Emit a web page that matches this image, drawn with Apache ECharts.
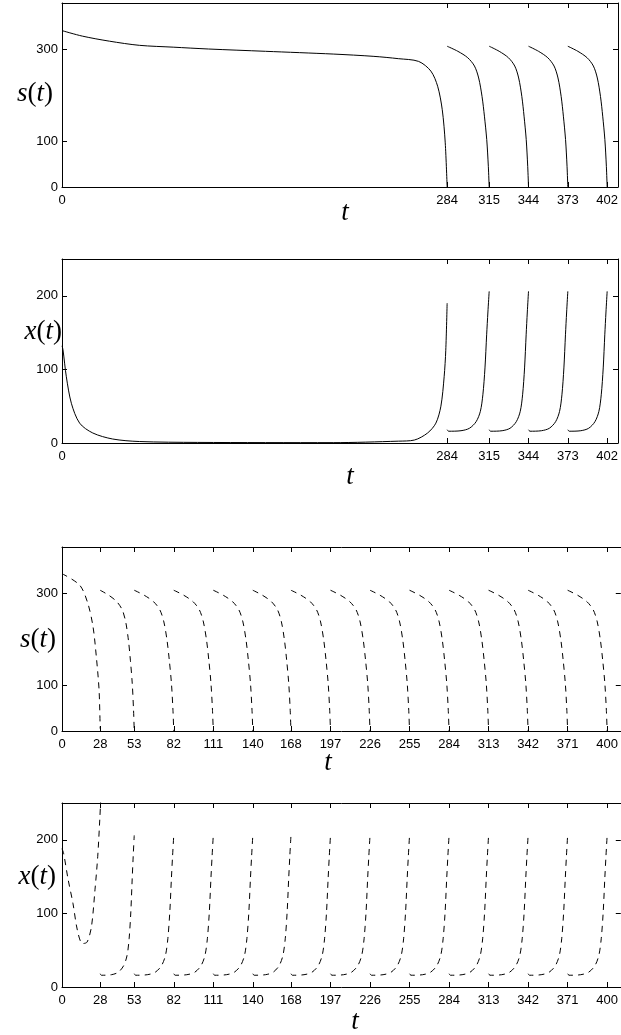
<!DOCTYPE html>
<html lang="en">
<head>
<meta charset="UTF-8">
<title>s(t), x(t)</title>
<style>
  html, body { margin: 0; padding: 0; background: #fff; }
</style>
</head>
<body>
<div id="main" style="width: 621px; height: 1035px;"></div>
<script src="https://cdn.jsdelivr.net/npm/echarts@6/dist/echarts.min.js"></script>
<script type="text/javascript">
// ---- data ----
// panel 1: s(t), solid
var s1HeadT = [0, 15, 35, 57, 82, 108, 150, 200, 230, 248, 263, 272, 277, 280.4, 282.6, 284];
var s1HeadV = [340, 328, 317, 308, 304, 300, 295, 289, 284, 279, 273, 252, 219, 168, 96, 0];
var s1Bounds = [284, 315, 344, 373, 402];
var s1Ticks = [0, 284, 315, 344, 373, 402];

// panel 2: x(t), solid
var x1HeadT = [0, 0.7, 3.2, 6.9, 13, 22.7, 37.4, 57, 100, 200, 248, 259.8, 269.6, 275.7, 279.4, 281.8, 283, 284];
var x1HeadV = [132, 127, 90, 54, 27, 13.6, 5.4, 2, 0.8, 0.5, 2.5, 4, 13.6, 27, 50, 90, 126, 190];

// one cycle, as fraction of the cycle length and value
var sCycleU = [0, 0.255, 0.49, 0.65, 0.75, 0.83, 0.887, 0.942, 0.98, 1];
var sCycleV = [306, 295, 281, 263, 237, 197, 154, 103, 45, 0];
var xCycleU = [0, 0.035, 0.33, 0.53, 0.69, 0.79, 0.85, 0.9, 0.94, 0.97, 1];
var xCycleV = [18, 16, 16.7, 20, 29, 43, 65.5, 102, 147, 178, 206];

// panel 3: s(t), dashed
var s2HeadT = [0, 13, 19, 22.8, 25.2, 27.2, 28];
var s2HeadV = [342, 317, 277, 226, 161, 89, 5];
var s2Bounds = [28, 53, 82, 111, 140, 168, 197, 226, 255, 284, 313, 342, 371, 400];
var s2Ticks = [0, 28, 53, 82, 111, 140, 168, 197, 226, 255, 284, 313, 342, 371, 400];

// panel 4: x(t), dashed
var x2HeadT = [0, 1.25, 4.4, 8.1, 11.3, 15, 18.4, 21.6, 24.2, 26.2, 27.7, 28.6];
var x2HeadV = [188, 181, 147, 113, 77, 59, 61, 82, 132, 177, 227, 262];

var sYTicks = [0, 100, 300];
var xYTicks = [0, 100, 200];

// ---- build series data ----
function headData(ts, vs) {
  var out = [];
  for (var i = 0; i < ts.length; i++) out.push([ts[i], vs[i]]);
  out.push([ts[ts.length - 1], '-']);
  return out;
}
function cycleData(bounds, u, v) {
  var out = [];
  for (var k = 0; k + 1 < bounds.length; k++) {
    var a = bounds[k], b = bounds[k + 1];
    for (var j = 0; j < u.length; j++) out.push([a + u[j] * (b - a), v[j]]);
    out.push([b, '-']);
  }
  return out;
}

var chart = echarts.init(document.getElementById('main'));

var tops = [3, 259, 547, 803];
var yMaxes = [400, 250, 400, 250];
var yTicks = [sYTicks, xYTicks, sYTicks, xYTicks];
var xTicks = [s1Ticks, s1Ticks, s2Ticks, s2Ticks];

var grid = [], xAxis = [], yAxis = [];
var black = '#000';
var tickFont = { color: black, fontSize: 13, fontFamily: 'Liberation Sans, Arial, sans-serif' };

for (var i = 0; i < 4; i++) {
  grid.push({ left: 62, top: tops[i], width: 559, height: 184 });
  // bottom + top
  xAxis.push({
    gridIndex: i, type: 'value', min: 0, max: 410, position: 'bottom',
    axisLine: { show: true, onZero: false, lineStyle: { color: black, width: 1 } },
    axisTick: { show: true, inside: true, length: 5, customValues: xTicks[i], lineStyle: { color: black } },
    axisLabel: Object.assign({ customValues: xTicks[i], margin: 7 }, tickFont),
    splitLine: { show: false }
  });
  xAxis.push({
    gridIndex: i, type: 'value', min: 0, max: 410, position: 'top',
    axisLine: { show: true, onZero: false, lineStyle: { color: black, width: 1 } },
    axisTick: { show: true, inside: true, length: 5, customValues: xTicks[i], lineStyle: { color: black } },
    axisLabel: { show: false },
    splitLine: { show: false }
  });
  // left + right
  yAxis.push({
    gridIndex: i, type: 'value', min: 0, max: yMaxes[i], position: 'left',
    axisLine: { show: true, onZero: false, lineStyle: { color: black, width: 1 } },
    axisTick: { show: true, inside: true, length: 5, customValues: yTicks[i], lineStyle: { color: black } },
    axisLabel: Object.assign({ customValues: yTicks[i], margin: 4 }, tickFont),
    splitLine: { show: false }
  });
  yAxis.push({
    gridIndex: i, type: 'value', min: 0, max: yMaxes[i], position: 'right',
    axisLine: { show: true, onZero: false, lineStyle: { color: black, width: 1 } },
    axisTick: { show: true, inside: true, length: 5, customValues: yTicks[i], lineStyle: { color: black } },
    axisLabel: { show: false },
    splitLine: { show: false }
  });
}

function lineSeries(i, data, dashed) {
  return {
    type: 'line', xAxisIndex: 2 * i, yAxisIndex: 2 * i,
    data: data, showSymbol: false, symbol: 'none',
    smooth: 0.3, connectNulls: false, clip: true,
    lineStyle: { color: black, width: 1, type: dashed ? [6, 5] : 'solid' },
    silent: true
  };
}

var series = [
  lineSeries(0, headData(s1HeadT, s1HeadV).concat(cycleData(s1Bounds, sCycleU, sCycleV)), false),
  lineSeries(1, headData(x1HeadT, x1HeadV).concat(cycleData(s1Bounds, xCycleU, xCycleV)), false),
  lineSeries(2, headData(s2HeadT, s2HeadV).concat(cycleData(s2Bounds, sCycleU, sCycleV)), true),
  lineSeries(3, headData(x2HeadT, x2HeadV).concat(cycleData(s2Bounds, xCycleU, xCycleV)), true)
];

// axis titles, LaTeX-like: italic letters, upright brackets
var rich = {
  i: { fontFamily: 'Liberation Serif', fontStyle: 'italic', fontSize: 27, fill: black, color: black },
  n: { fontFamily: 'Liberation Serif', fontSize: 27, fill: black, color: black }
};
function label(txt, x, y, align) {
  return {
    type: 'text', x: x, y: y, silent: true,
    style: {
      text: txt, rich: rich, fill: black,
      align: align, textAlign: align,
      verticalAlign: 'middle', textVerticalAlign: 'middle'
    }
  };
}
var graphic = [
  label('{i|s}{n|(}{i|t}{n|)}', 53, 94, 'right'),
  label('{i|x}{n|(}{i|t}{n|)}', 62, 332, 'right'),
  label('{i|s}{n|(}{i|t}{n|)}', 56, 640, 'right'),
  label('{i|x}{n|(}{i|t}{n|)}', 56, 877, 'right'),
  label('{i|t}', 345, 213, 'center'),
  label('{i|t}', 350, 477, 'center'),
  label('{i|t}', 328, 763, 'center'),
  label('{i|t}', 355, 1022, 'center')
];

chart.setOption({
  animation: false,
  backgroundColor: '#fff',
  grid: grid,
  xAxis: xAxis,
  yAxis: yAxis,
  series: series,
  graphic: graphic
});
</script>
</body>
</html>
